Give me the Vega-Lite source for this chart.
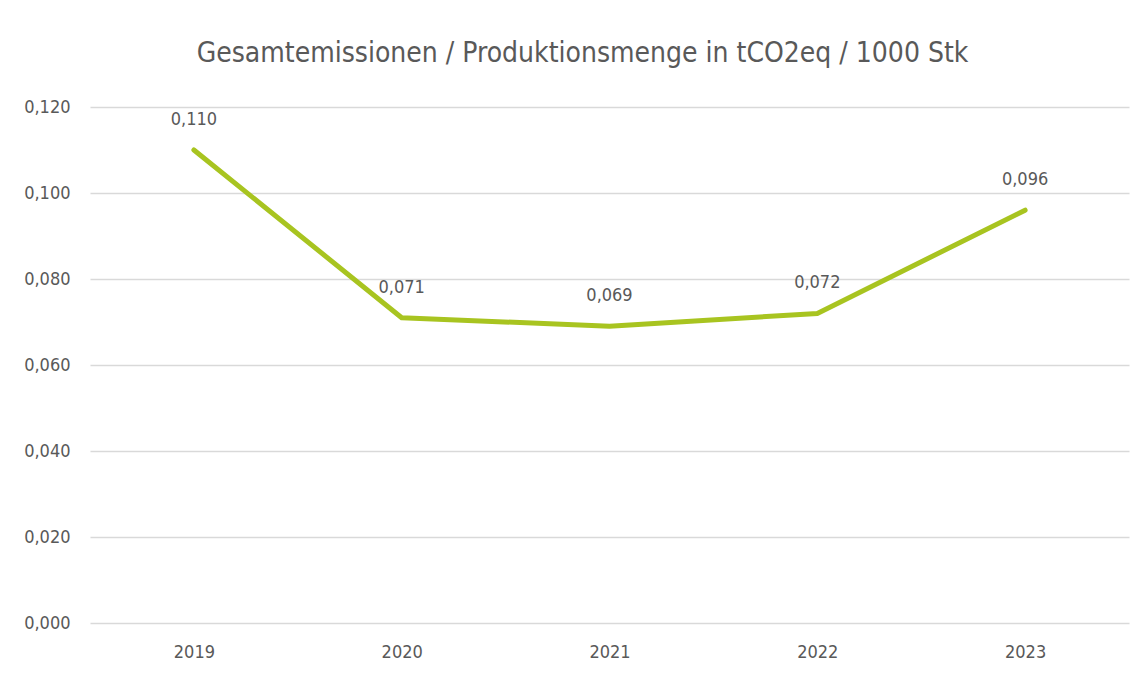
{
  "$schema": "https://vega.github.io/schema/vega-lite/v6.json",
  "width": 1039,
  "height": 516,
  "autosize": {"type": "none"},
  "padding": {"left": 90, "top": 107, "right": 17, "bottom": 52},
  "background": "white",
  "title": {
    "text": "Gesamtemissionen / Produktionsmenge in tCO2eq / 1000 Stk",
    "font": "Liberation Sans Narrow, DejaVu Sans Condensed, sans-serif",
    "fontSize": 28,
    "fontWeight": "normal",
    "color": "#595959",
    "anchor": "middle",
    "offset": 30,
    "dx": -27
  },
  "config": {
    "locale": {"number": {"decimal": ",", "thousands": ".", "grouping": [3], "currency": ["", " €"]}},
    "view": {"stroke": null},
    "font": "Liberation Sans Narrow, DejaVu Sans Condensed, sans-serif"
  },
  "data": {
    "values": [
      {"year": "2019", "value": 0.110},
      {"year": "2020", "value": 0.071},
      {"year": "2021", "value": 0.069},
      {"year": "2022", "value": 0.072},
      {"year": "2023", "value": 0.096}
    ]
  },
  "encoding": {
    "x": {
      "field": "year",
      "type": "ordinal",
      "scale": {"paddingInner": 0, "paddingOuter": 0},
      "axis": {
        "title": null,
        "labelAngle": 0,
        "domain": false,
        "ticks": false,
        "labelPadding": 20,
        "labelFontSize": 18,
        "labelColor": "#595959"
      }
    },
    "y": {
      "field": "value",
      "type": "quantitative",
      "scale": {"domain": [0, 0.12], "nice": false},
      "axis": {
        "title": null,
        "values": [0, 0.02, 0.04, 0.06, 0.08, 0.1, 0.12],
        "format": ".3f",
        "domain": false,
        "ticks": false,
        "labelPadding": 20,
        "labelFontSize": 18,
        "labelColor": "#595959",
        "gridColor": "#d9d9d9",
        "gridWidth": 1.5
      }
    }
  },
  "layer": [
    {
      "mark": {"type": "line", "color": "#a8c420", "strokeWidth": 5, "strokeCap": "round", "strokeJoin": "round"}
    },
    {
      "mark": {"type": "text", "dy": -25, "baseline": "alphabetic", "fontSize": 18, "color": "#595959"},
      "encoding": {
        "text": {"field": "value", "type": "quantitative", "format": ".3f"}
      }
    }
  ]
}
